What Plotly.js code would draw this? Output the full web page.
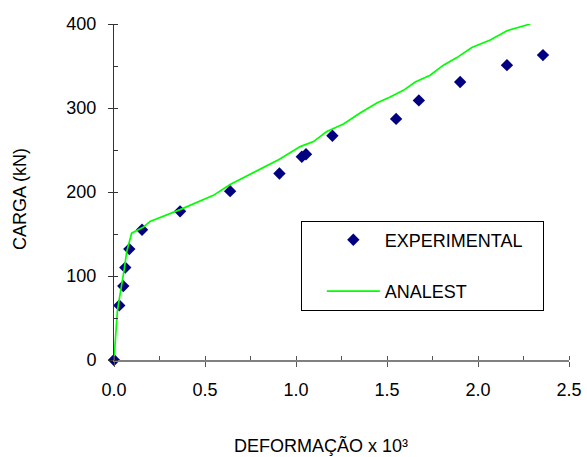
<!DOCTYPE html>
<html>
<head>
<meta charset="utf-8">
<script src="https://cdn.plot.ly/plotly-3.0.1.min.js"></script>
<style>html,body{margin:0;padding:0;background:#fff;}#chart{width:587px;height:457px;}</style>
</head>
<body>
<div id="chart"></div>
<script>
// Experimental data (deformation x10^3, load kN)
const expX = [0, 0.029, 0.051, 0.062, 0.084, 0.154, 0.363, 0.638, 0.909, 1.032, 1.055, 1.2, 1.55, 1.675, 1.902, 2.159, 2.357];
const expY = [0, 65, 88, 110, 132, 155, 177, 201, 222, 242, 245, 267, 287, 309, 331, 351, 363];
// ANALEST curve
const anaX = [0, 0.006, 0.011, 0.018, 0.024, 0.042, 0.057, 0.07, 0.097, 0.16, 0.198, 0.363, 0.546, 0.638, 0.909, 1.023, 1.096, 1.169, 1.261, 1.352, 1.444, 1.517, 1.59, 1.655, 1.737, 1.81, 1.884, 1.966, 2.067, 2.159, 2.287];
const anaY = [0, 22, 42, 57, 66, 87, 109, 129, 151, 158, 165, 179, 196, 209, 239, 254, 260, 272, 281, 294, 306, 313, 321, 331, 339, 351, 360, 372, 381, 392, 400];
const seriesNames = ['EXPERIMENTAL', 'ANALEST'];
const xTitle = 'DEFORMAÇÃO x 10³';
const yTitle = 'CARGA (kN)';

const FONT = 'Liberation Sans, Arial, sans-serif';
const PAD = '\u00a0\u00a0\u00a0';  // widens the legend box to the reference's width
const traces = [
  {x: expX, y: expY, name: seriesNames[0] + PAD, type: 'scatter', mode: 'markers', cliponaxis: false,
   marker: {symbol: 'diamond', size: 9.5, color: '#000080'}, legendgroup: 'a'},
  {x: anaX, y: anaY, name: seriesNames[1], type: 'scatter', mode: 'lines', cliponaxis: false,
   line: {color: '#00ff00', width: 1.7}, legendgroup: 'b'}
];
const layout = {
  width: 587, height: 457,
  margin: {l: 114, r: 18.3, t: 23.7, b: 97, pad: 0},
  paper_bgcolor: '#fff', plot_bgcolor: '#fff',
  font: {family: FONT, size: 18, color: '#000'},
  showlegend: true,
  legend: {x: 0.4106, y: 0.415, xanchor: 'left', yanchor: 'top', bordercolor: '#000', borderwidth: 1,
           bgcolor: '#fff', font: {family: FONT, size: 18, color: '#000'}, tracegroupgap: 25,
           itemwidth: 53, indentation: 20},
  xaxis: {range: [0, 2.5], dtick: 0.5, tick0: 0, tickformat: '.1f', showgrid: false, zeroline: false,
          showline: true, linecolor: '#808080', linewidth: 1.5, ticks: 'outside', ticklen: 5, tickcolor: '#555', tickwidth: 1,
          ticklabelstandoff: 8, fixedrange: true,
          minor: {dtick: 0.25, ticks: 'inside', ticklen: 4, tickcolor: '#555', showgrid: false}},
  yaxis: {range: [0, 400], dtick: 100, tick0: 0, showgrid: false, zeroline: false,
          showline: true, linecolor: '#333', linewidth: 1, ticks: 'outside', ticklen: 5, tickcolor: '#333', tickwidth: 1,
          ticklabelstandoff: 8, fixedrange: true,
          minor: {dtick: 50, ticks: 'inside', ticklen: 4, tickcolor: '#333', showgrid: false}},
  xaxis2: {overlaying: 'x', anchor: 'y', side: 'bottom', range: [0, 2.5], dtick: 0.5, tick0: 0, showticklabels: false,
           showgrid: false, zeroline: false, showline: false, ticks: 'inside', ticklen: 4, tickcolor: '#555', fixedrange: true},
  yaxis2: {overlaying: 'y', anchor: 'x', side: 'left', range: [0, 400], dtick: 100, tick0: 0, showticklabels: false,
           showgrid: false, zeroline: false, showline: false, ticks: 'inside', ticklen: 4, tickcolor: '#333', fixedrange: true},
  annotations: [
    {text: xTitle, xref: 'paper', yref: 'paper', x: 0.4552, y: -0.2557, xanchor: 'center', yanchor: 'middle',
     showarrow: false, font: {family: FONT, size: 18, color: '#000'}},
    {text: yTitle, xref: 'paper', yref: 'paper', x: -0.2067, y: 0.4787, xanchor: 'center', yanchor: 'middle',
     textangle: -90, showarrow: false, font: {family: FONT, size: 18, color: '#000'}}
  ]
};
Plotly.newPlot('chart', traces, layout, {staticPlot: true, displayModeBar: false});
</script>
</body>
</html>
